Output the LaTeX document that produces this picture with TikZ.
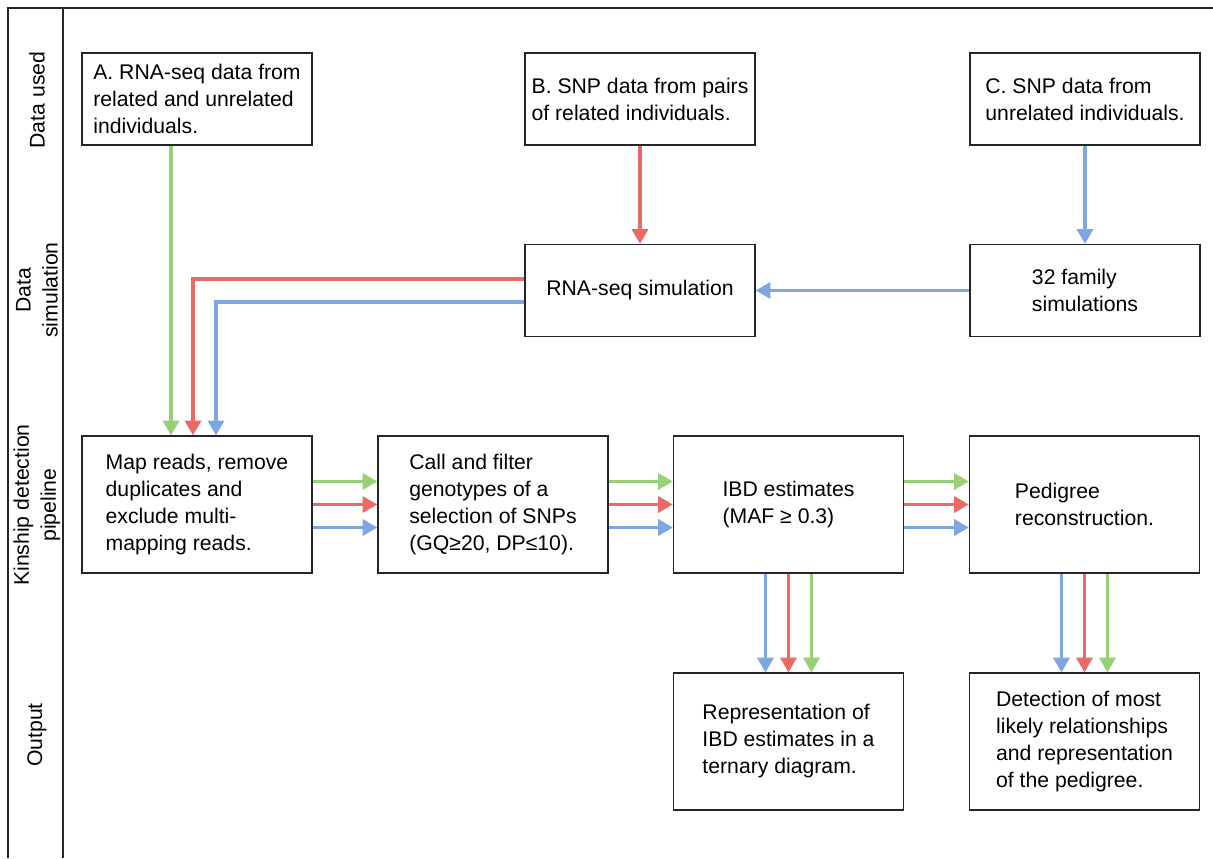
\documentclass[tikz,border=0pt]{standalone}
\usepackage{fontspec}
\setmainfont{Liberation Sans}
\usetikzlibrary{arrows.meta}
\newcommand{\pix}[0]{0.75pt}
\definecolor{lgreen}{HTML}{97D077}
\definecolor{lred}{HTML}{EA6B66}
\definecolor{lblue}{HTML}{7EA6E0}

\begin{document}
\begin{tikzpicture}[x=\pix,y=-\pix,font=\fontsize{15.9}{20.25}\selectfont,
        box/.style={draw=black!85,line width=1.3*\pix,minimum width=230*\pix,align=left},
        low/.style={box,minimum height=92*\pix},
        high/.style={box,minimum height=137*\pix},
        arr/.style={line width=3.2*\pix,-{Triangle[width=12pt,length=11pt]}}]
        \useasboundingbox (0,0) rectangle (1213,858);

        %lanes
        \draw[line width=1.3*\pix,black!85] (8,858) -- (8,8) -- (1213,8);
        \draw[line width=1.3*\pix,black!85] (63,8) -- (63,858);
        \node[rotate=90] (used) at (37,100) {Data used};
        \node[rotate=90,align=center] (simlane) at (37,290) {Data\\simulation};
        \node[rotate=90,align=center] (pipe) at (37,505) {Kinship detection\\pipeline};
        \node[rotate=90] (out) at (37,735) {Output};

        \node[low] (a) at (197,99) {A. RNA-seq data from\\related and unrelated\\individuals.};
        \node[low] (b) at (640,99) {B. SNP data from pairs\\of related individuals.};
        \node[low] (c) at (1085,99) {C. SNP data from\\unrelated individuals.};
        \node[low] (sim) at (640,290.5) {RNA-seq simulation};
        \node[low] (fam) at (1085,290.5) {32 family\\simulations};
        \node[high] (map) at (197,504.5) {Map reads, remove\\duplicates and\\exclude multi-\\mapping reads.};
        \node[high] (call) at (493,504.5) {Call and filter\\genotypes of a\\selection of SNPs\\(GQ≥20, DP≤10).};
        \node[high] (ibd) at (788.5,504.5) {IBD estimates\\(MAF ≥ 0.3)};
        \node[high] (ped) at (1084.5,504.5) {Pedigree\\reconstruction.};
        \node[high] (rep) at (788.5,741.5) {Representation of\\IBD estimates in a\\ternary diagram.};
        \node[high] (det) at (1084.5,741.5) {Detection of most\\likely relationships\\and representation\\of the pedigree.};

        %arrows
        \draw[arr,lgreen] ([xshift=-26*\pix]a.south) -- ([xshift=-26*\pix]map.north);
        \draw[arr,lred] ([yshift=11.5*\pix]sim.west) -| ([xshift=-4*\pix]map.north);
        \draw[arr,lblue] ([yshift=-11.5*\pix]sim.west) -| ([xshift=19*\pix]map.north);
        \draw[arr,lred] (b) -- (sim);
        \draw[arr,lblue] (c) -- (fam);
        \draw[arr,lblue] (fam) -- (sim);
        \foreach \s/\t in {map/call,call/ibd,ibd/ped}
            \foreach \c/\d in {lgreen/23,lred/0,lblue/-23}
                \draw[arr,\c] ([yshift=\d*\pix]\s.east) -- ([yshift=\d*\pix]\t.west);
        \foreach \s/\t in {ibd/rep,ped/det}
            \foreach \c/\d in {lblue/-23,lred/0,lgreen/23}
                \draw[arr,\c] ([xshift=\d*\pix]\s.south) -- ([xshift=\d*\pix]\t.north);
\end{tikzpicture}
\end{document}
